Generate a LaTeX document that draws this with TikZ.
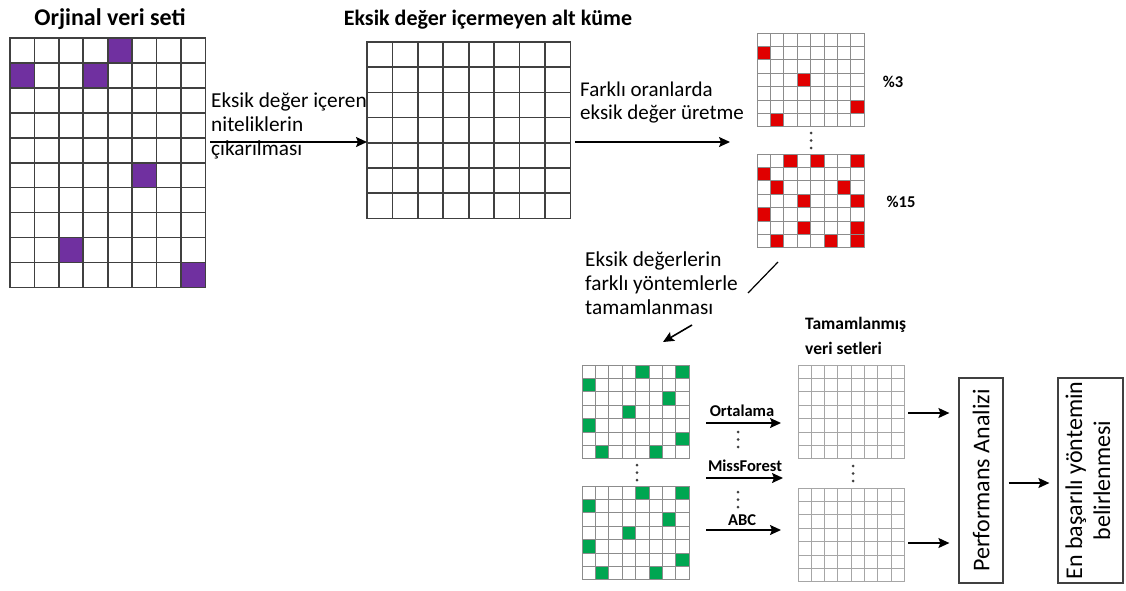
\documentclass[tikz,border=0pt]{standalone}
\usepackage{fontspec}
\setmainfont{Carlito}
\usetikzlibrary{arrows.meta, calc}
\definecolor{gridgray}{HTML}{404040}
\definecolor{cellpurple}{HTML}{7030A0}
\definecolor{cellred}{HTML}{E00000}
\definecolor{cellgreen}{HTML}{00A651}
\tikzstyle{datagrid} = [rectangle, inner sep=0pt, anchor=north west]
\tikzstyle{heavyline} = [draw=gridgray, line width=1.7pt, line cap=rect]
\tikzstyle{thinline} = [draw=gray!90, line width=1pt, line cap=rect]
\tikzstyle{lightline} = [draw=gray!70, line width=1pt, line cap=rect]
\tikzstyle{arrow} = [line width=1.6pt,->,>={Stealth[length=11pt, width=10pt, inset=2pt]}]
\tikzstyle{connector} = [line width=1.2pt]
\tikzstyle{title} = [font=\bfseries\fontsize{22}{26}\selectfont, inner sep=0pt]
\tikzstyle{note} = [font=\fontsize{21.3}{24}\selectfont, align=left, inner sep=0pt, anchor=north west]
\tikzstyle{method} = [font=\bfseries\fontsize{16.5}{19}\selectfont, inner sep=0pt]
\tikzstyle{stage} = [rectangle, draw=gridgray, line width=1.2pt, inner sep=0pt, font=\fontsize{24}{28}\selectfont]
\tikzstyle{dot} = [fill=gridgray]

% lines of a grid node: node, columns, rows, style
\newcommand{\gridlines}[4]{%
  \foreach \i in {0,...,#2}
    \draw[#4] ($(#1.north west)!{\i/#2}!(#1.north east)$) -- ($(#1.south west)!{\i/#2}!(#1.south east)$);
  \foreach \j in {0,...,#3}
    \draw[#4] ($(#1.north west)!{\j/#3}!(#1.south west)$) -- ($(#1.north east)!{\j/#3}!(#1.south east)$);
}
% filled cells: node, cell width, cell height, colour, list col/row
\newcommand{\markcells}[5]{%
  \foreach \c/\r in {#5}
    \fill[#4] ($(#1.north west)+(\c*#2,\r*#3)$) rectangle ++(#2,#3);
}
% three dots going down from a point
\newcommand{\vdotsat}[2]{%
  \foreach \k in {0,1,2}
    \fill[dot] (#1,#2+\k*7.5) circle (1.5);
}

\begin{document}
\begin{tikzpicture}[x=1pt, y=-1pt]
        \useasboundingbox (0,0) rectangle (1126,590);

        % original data set
        \node (origtitle) [title, font=\bfseries\fontsize{24}{28}\selectfont] at (110,19) {Orjinal veri seti};
        \node (orig) [datagrid, minimum width=195pt, minimum height=249pt] at (10,38) {};
        \markcells{orig}{24.375}{24.9}{cellpurple}{4/0, 0/1, 3/1, 5/5, 2/8, 7/9}
        \gridlines{orig}{8}{10}{heavyline}

        % complete subset
        \node (subtitle) [title] at (488,20) {Eksik değer içermeyen alt küme};
        \node (sub) [datagrid, minimum width=203pt, minimum height=176pt] at (367,42) {};
        \gridlines{sub}{8}{7}{heavyline}

        \node (removal) [note] at (211,93) {Eksik değer içeren\\niteliklerin\\çıkarılması};
        \coordinate (r1) at (210,142);
        \draw [arrow] (r1) -- (r1 -| sub.west);

        % missing values generated
        \node (generate) [note, font=\fontsize{21}{23}\selectfont] at (580,82) {Farklı oranlarda\\eksik değer üretme};
        \node (rtop) [datagrid, minimum width=107pt, minimum height=93.5pt] at (757,33) {};
        \markcells{rtop}{13.375}{13.357}{cellred}{0/1, 3/3, 7/5, 1/6}
        \gridlines{rtop}{8}{7}{thinline}
        \vdotsat{811}{133}
        \node (rbot) [datagrid, minimum width=107pt, minimum height=93.5pt] at (757,154) {};
        \markcells{rbot}{13.375}{13.357}{cellred}{2/0, 4/0, 7/0, 0/1, 1/2, 6/2, 3/3, 7/3, 0/4, 3/5, 7/5, 1/6, 5/6, 7/6}
        \gridlines{rbot}{8}{7}{thinline}
        \node (low) [method] at (893,82) {\%3};
        \node (high) [method] at (901,202) {\%15};
        \coordinate (g1) at (575,142);
        \coordinate (g2) at (730,142);
        \draw [arrow] (g1) -- (g2);

        % imputation
        \node (impute) [note] at (585,252) {Eksik değerlerin\\farklı yöntemlerle\\tamamlanması};
        \coordinate (c1) at (748,293);
        \coordinate (c2) at (778,262);
        \draw [connector] (c1) -- (c2);
        \coordinate (c3) at (692,325);
        \coordinate (c4) at (663,342);
        \draw [arrow] (c3) -- (c4);

        \node (gtop) [datagrid, minimum width=107pt, minimum height=93.5pt] at (582,365) {};
        \markcells{gtop}{13.375}{13.357}{cellgreen}{4/0, 7/0, 0/1, 6/2, 3/3, 0/4, 7/5, 1/6, 5/6}
        \gridlines{gtop}{8}{7}{thinline}
        \vdotsat{637}{465}
        \node (gbot) [datagrid, minimum width=107pt, minimum height=93.5pt] at (582,486) {};
        \markcells{gbot}{13.375}{13.357}{cellgreen}{4/0, 7/0, 0/1, 6/2, 3/3, 0/4, 7/5, 1/6, 5/6}
        \gridlines{gbot}{8}{7}{thinline}

        % methods
        \node (mean) [method] at (742,411) {Ortalama};
        \node (forest) [method] at (745,466) {MissForest};
        \node (abc) [method] at (742,520) {ABC};
        \coordinate (m1) at (706,423);
        \coordinate (m2) at (706,478);
        \coordinate (m3) at (706,530);
        \draw [arrow] (m1) -- ++(75,0);
        \draw [arrow] (m2) -- ++(77,0);
        \draw [arrow] (m3) -- ++(75,0);
        \vdotsat{738}{432}
        \vdotsat{738}{492}

        % completed data sets
        \node (donetitle) [title, align=left, anchor=north west, font=\bfseries\fontsize{17.5}{25}\selectfont] at (805,317) {Tamamlanmış\\veri setleri};
        \node (ctop) [datagrid, minimum width=106pt, minimum height=93.5pt] at (798,365) {};
        \gridlines{ctop}{8}{7}{lightline}
        \vdotsat{853}{466}
        \node (cbot) [datagrid, minimum width=106pt, minimum height=93.5pt] at (798,488) {};
        \gridlines{cbot}{8}{7}{lightline}

        % analysis
        \node (perf) [stage, minimum width=44pt, minimum height=205pt] at (981,480.5) {\rotatebox{90}{Performans Analizi}};
        \node (best) [stage, minimum width=65pt, minimum height=205pt] at (1090.5,480.5) {\rotatebox{90}{\begin{tabular}{@{}c@{}}En başarılı yöntemin\\belirlenmesi\end{tabular}}};
        \coordinate (p1) at (908,413);
        \coordinate (p2) at (908,543);
        \draw [arrow, shorten >=9pt] (p1) -- (p1 -| perf.west);
        \draw [arrow, shorten >=9pt] (p2) -- (p2 -| perf.west);
        \draw [arrow, shorten <=5pt, shorten >=8pt] (perf.east |- 0,483) -- (best.west |- 0,483);
    \end{tikzpicture}
\end{document}
